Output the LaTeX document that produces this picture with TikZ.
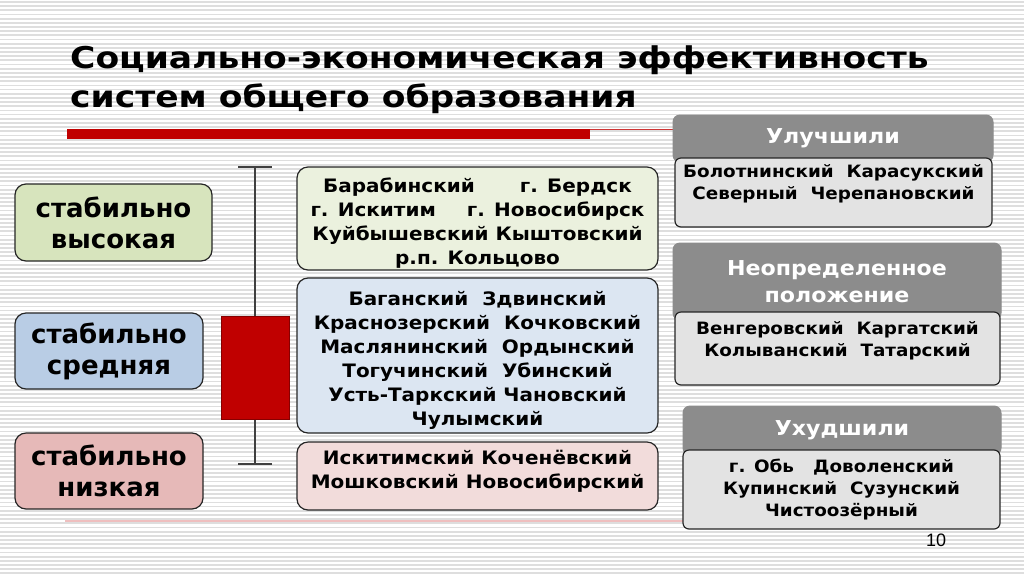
\documentclass[tikz,border=0pt]{standalone}
\usepackage{fontspec}
\setmainfont{DejaVu Sans}
\newfontfamily\widefont[FakeStretch=1.08]{DejaVu Sans}
\newfontfamily\titlefont[FakeStretch=1.15]{DejaVu Sans}
\newfontfamily\numfont{Liberation Sans}
\usetikzlibrary{positioning}

\definecolor{stripegray}{RGB}{222,222,222}
\definecolor{highgreen}{RGB}{215,228,189}
\definecolor{midblue}{RGB}{185,205,229}
\definecolor{lowpink}{RGB}{230,185,184}
\definecolor{palegreen}{RGB}{235,241,222}
\definecolor{paleblue}{RGB}{220,230,242}
\definecolor{palepink}{RGB}{242,220,219}
\definecolor{candlered}{RGB}{192,0,0}
\definecolor{headgray}{RGB}{140,140,140}
\definecolor{listgray}{RGB}{227,227,227}

\tikzset{
  levelbox/.style={draw=black!85, line width=1.2pt, rounded corners=11pt, minimum width=188pt, minimum height=76pt, align=center, font=\fontsize{26}{31}\selectfont\bfseries},
  listbox/.style={draw=black!85, line width=1.2pt, rounded corners=11pt, minimum width=361pt},
  listtext/.style={align=center, inner sep=0pt, font=\widefont\fontsize{18.5}{24}\selectfont\bfseries},
  headbox/.style={fill=headgray, draw=black!45, line width=1pt, rounded corners=7pt, text=white, align=center, font=\widefont\fontsize{20.5}{27}\selectfont\bfseries},
  groupbox/.style={fill=listgray, draw=black!85, line width=1.2pt, rounded corners=6pt},
  grouptext/.style={align=center, inner sep=0pt, font=\widefont\fontsize{17}{22}\selectfont\bfseries},
}

\begin{document}
\begin{tikzpicture}[x=1pt, y=-1pt]
        \useasboundingbox (0,0) rectangle (1024,574);
        % BACKGROUND
        % -----------------
        \fill[white] (0,0) rectangle (1024,574);
        \foreach \i in {0,...,137}
            \draw[stripegray, line width=1.8pt] (0,{4.17*\i+2}) -- (1024,{4.17*\i+2});
        
        % TITLE
        % -----------------
        \node[anchor=north west, align=left, inner sep=0pt, font=\titlefont\fontsize{30}{39}\selectfont\bfseries] (title) at (70,46)
            {Социально-экономическая эффективность\\систем общего образования};
        \fill[candlered] (67,129) rectangle (590,139);
        \draw[candlered!80, line width=1pt] (590,129.5) -- (675,129.5);
        \draw[candlered!25, line width=1.5pt] (65,521) -- (686,521);
        
        % LEVELS
        % -----------------
        \node[levelbox, fill=highgreen, minimum width=197pt, minimum height=77pt] (high_box) at (113.5,222.5) {стабильно\\высокая};
        \node[levelbox, fill=midblue] (mid_box) at (109,351) {стабильно\\средняя};
        \node[levelbox, fill=lowpink] (low_box) at (109,471) {стабильно\\низкая};
        
        % CANDLE
        % -----------------
        \node[fill=candlered, draw=candlered!70!black, line width=1pt, minimum width=68pt, minimum height=103pt, inner sep=0pt] (candle) at (255,367.5) {};
        \coordinate (whisk_top) at (255,167);
        \coordinate (whisk_bot) at (255,464);
        \draw[black!75, line width=1.2pt] (candle.north) -- (whisk_top);
        \draw[black!75, line width=1.2pt] (candle.south) -- (whisk_bot);
        \draw[black!75, line width=1.2pt] ([xshift=-17pt]whisk_top) -- ([xshift=17pt]whisk_top);
        \draw[black!75, line width=1.2pt] ([xshift=-17pt]whisk_bot) -- ([xshift=17pt]whisk_bot);
        
        % DISTRICT LISTS
        % -----------------
        \node[listbox, fill=palegreen, minimum height=103pt] (high_list) at (477.5,218.5) {};
        \node[listtext, below=11pt of high_list.north] (high_text)
            {Барабинский\hspace{45pt}г. Бердск\\г. Искитим\hspace{31pt}г. Новосибирск\\Куйбышевский Кыштовский\\р.п. Кольцово};
        \node[listbox, fill=paleblue, minimum height=155pt] (mid_list) at (477.5,355.5) {};
        \node[listtext, below=14pt of mid_list.north] (mid_text)
            {Баганский\ \ Здвинский\\Краснозерский\ \ Кочковский\\Маслянинский\ \ Ордынский\\Тогучинский\ \ Убинский\\Усть-Таркский Чановский\\Чулымский};
        \node[listbox, fill=palepink, minimum height=68pt] (low_list) at (477.5,476) {};
        \node[listtext, below=9pt of low_list.north] (low_text)
            {Искитимский Коченёвский\\Мошковский Новосибирский};
        
        % CHANGES
        % -----------------
        % Improved
        \node[headbox, minimum width=320pt, minimum height=47pt] (up_head) at (833,138.5) {Улучшили};
        \node[groupbox, minimum width=317pt, minimum height=69pt] (up_list) at (833.5,192.5) {};
        \node[grouptext, below=7pt of up_list.north] (up_text) {Болотнинский\ \ Карасукский\\Северный\ \ Черепановский};
        
        % Uncertain
        \node[headbox, minimum width=328pt, minimum height=77pt] (unc_head) at (837,281.5) {Неопределенное\\положение};
        \node[groupbox, minimum width=325pt, minimum height=73pt] (unc_list) at (837.5,348.5) {};
        \node[grouptext, below=10pt of unc_list.north] (unc_text) {Венгеровский\ \ Каргатский\\Колыванский\ \ Татарский};
        
        % Worsened
        \node[headbox, minimum width=318pt, minimum height=49pt] (down_head) at (842,430.5) {Ухудшили};
        \node[groupbox, minimum width=317pt, minimum height=79pt] (down_list) at (841.5,489.5) {};
        \node[grouptext, below=9.5pt of down_list.north] (down_text) {г. Обь\ \ \ Доволенский\\Купинский\ \ Сузунский\\Чистоозёрный};
        
        % page number
        \node[font=\numfont\fontsize{18}{20}\selectfont] (page_num) at (936,540) {10};
\end{tikzpicture}
\end{document}
